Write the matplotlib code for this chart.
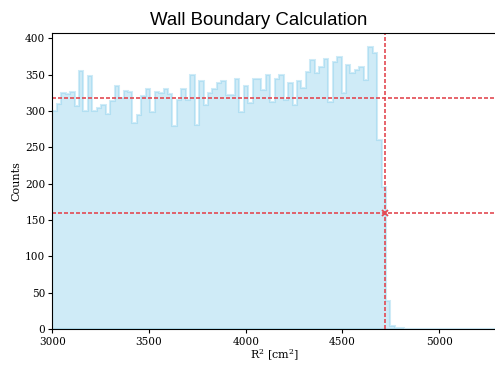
import numpy as np
import matplotlib
matplotlib.use("Agg")
import matplotlib.pyplot as plt

# bordes de los bins: 100 bins de 3000 a 5300
inicio_bins = 3000
fin_bins = 5300
n_bins = 100

# cuentas (solo los bins con datos, el resto es 0)
cuentas = [300, 309, 325, 323, 326, 307, 355, 300, 348, 300,
           304, 308, 296, 314, 335, 318, 328, 326, 283, 295,
           321, 330, 299, 326, 325, 330, 323, 279, 315, 331,
           315, 350, 281, 342, 308, 325, 330, 339, 342, 322,
           322, 344, 299, 335, 311, 344, 344, 329, 350, 313,
           344, 350, 315, 338, 308, 342, 332, 354, 370, 352,
           361, 371, 313, 367, 374, 325, 364, 353, 357, 360,
           343, 388, 380, 260, 195, 38, 4, 2, 2]

valor_medio = 318
mitad = 159
borde_pared = 4718

titulo = "Wall Boundary Calculation"
etiqueta_x = r"R$^2$ [cm$^2$]"
etiqueta_y = "Counts"

bordes = np.linspace(inicio_bins, fin_bins, n_bins + 1)
valores = np.zeros(n_bins)
valores[:len(cuentas)] = cuentas
centros = (bordes[:-1] + bordes[1:]) / 2

rojo = "#e34a53"
plt.rcParams["mathtext.fontset"] = "dejavuserif"

fig = plt.figure(figsize=(4.95, 3.65), dpi=100)
ax = fig.add_axes([0.1057, 0.0986, 0.8988, 0.8110])

ax.hist(centros, bins=bordes, weights=valores, histtype="stepfilled",
        color="skyblue", edgecolor="skyblue", alpha=0.4, linewidth=1.5)

ax.axhline(valor_medio, color=rojo, linestyle="--", dashes=(2.4, 1.2), linewidth=1.2)
ax.axhline(mitad, color=rojo, linestyle="--", dashes=(2.4, 1.2), linewidth=1.2)
ax.axvline(borde_pared, color=rojo, linestyle="--", dashes=(2.4, 1.2), linewidth=1.2)
ax.plot([borde_pared], [mitad], marker="x", color=rojo, markersize=5, markeredgewidth=1.3)

ax.set_xlim(inicio_bins, fin_bins)
ax.set_ylim(0, max(cuentas) * 1.05)
ax.set_xticks([3000, 3500, 4000, 4500, 5000])
ax.set_yticks(np.arange(0, 401, 50))
ax.tick_params(axis="x", length=3.2, pad=2.2)
ax.tick_params(axis="y", length=3.2, pad=1.8)

for lbl in ax.get_xticklabels() + ax.get_yticklabels():
    lbl.set_family("DejaVu Serif")
    lbl.set_fontsize(7.6)

ax.set_xlabel(etiqueta_x, family="DejaVu Serif", fontsize=8, labelpad=1)
ax.set_ylabel(etiqueta_y, family="DejaVu Serif", fontsize=8, labelpad=2.5)
ax.set_title(titulo, family="Liberation Sans", fontsize=13.4, x=0.4635, pad=6)

fig.savefig("out.png", dpi=100)
